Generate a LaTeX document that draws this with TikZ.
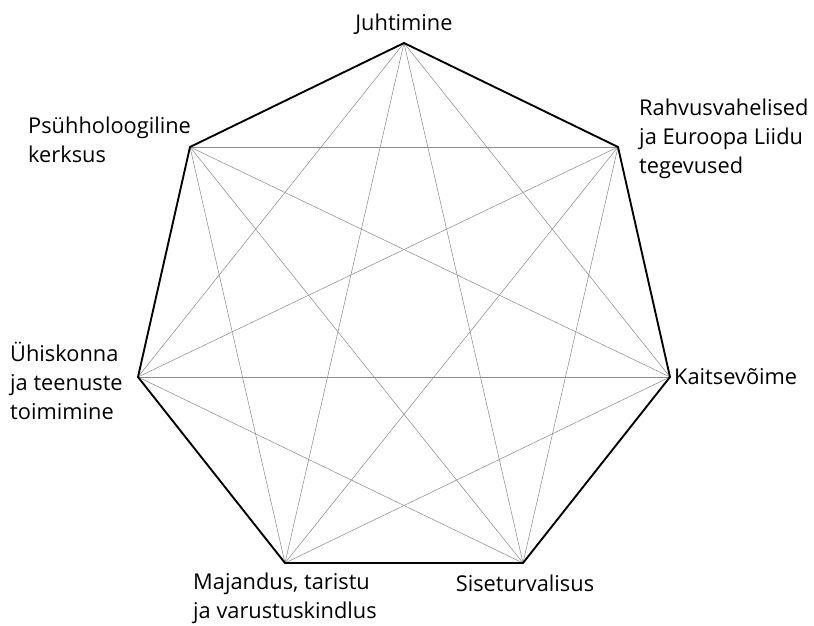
\documentclass[tikz,border=0pt]{standalone}
\usepackage{fontspec}
\setmainfont{Open Sans}
\begin{document}
\begin{tikzpicture}[x=0.3mm, y=-0.3mm,
  lbl/.style={font=\fontsize{18.6}{24.7}\selectfont, inner sep=0pt, align=left},
  rim/.style={line width=1.6pt, line join=miter},
  chord/.style={gray!90, line width=0.45pt}]
  \useasboundingbox (0,0) rectangle (814,626);
  % corners of the heptagon
  \foreach \n/\x/\y in {a/404/43, b/618/147, c/670/377, d/523/563,
                        e/285/563, f/138/377, g/190/147}
    \coordinate (\n) at (\x,\y);
  % every diagonal
  \foreach \p/\q in {a/c, a/d, a/e, a/f, b/d, b/e, b/f, b/g,
                     c/e, c/f, c/g, d/f, d/g, e/g}
    \draw[chord] (\p) -- (\q);
  % outline
  \draw[rim] (a) -- (b) -- (c) -- (d) -- (e) -- (f) -- (g) -- cycle;
  % labels
  \node[lbl, anchor=base] (juht) at (404,31) {Juhtimine};
  \node[lbl, anchor=north west] (psyh) at (28,117) {Psühholoogiline\\kerksus};
  \node[lbl, anchor=north west] (rahv) at (639,99) {Rahvusvahelised\\ja Euroopa Liidu\\tegevused};
  \node[lbl, anchor=base west] (kait) at (674,385) {Kaitsevõime};
  \node[lbl, anchor=north west] (yhis) at (10,342) {Ühiskonna\\ja teenuste\\toimimine};
  \node[lbl, anchor=north west] (maja) at (193,573) {Majandus, taristu\\ja varustuskindlus};
  \node[lbl, anchor=base] (sise) at (525,591) {Siseturvalisus};
\end{tikzpicture}
\end{document}
